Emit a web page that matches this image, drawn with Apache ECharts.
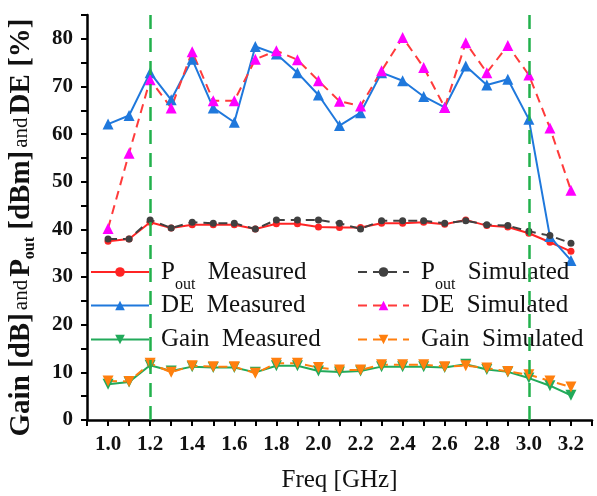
<!DOCTYPE html>
<html>
<head>
<meta charset="utf-8">
<script src="https://cdn.jsdelivr.net/npm/echarts@6/dist/echarts.min.js"></script>
<style>
  html, body { margin: 0; padding: 0; background: #fff; }
  #chart { width: 597px; height: 496px; }
</style>
</head>
<body>
<div id="chart"></div>
<script>
const freq = [1.0, 1.1, 1.2, 1.3, 1.4, 1.5, 1.6, 1.7, 1.8, 1.9, 2.0, 2.1, 2.2, 2.3, 2.4, 2.5, 2.6, 2.7, 2.8, 2.9, 3.0, 3.1, 3.2];

const poutMeas = [37.5, 38.0, 41.5, 40.3, 41.0, 41.0, 41.0, 40.1, 41.2, 41.2, 40.5, 40.4, 40.4, 41.3, 41.3, 41.5, 41.1, 42.0, 40.8, 40.5, 39.2, 37.3, 35.4];
const poutSim  = [38.0, 38.0, 42.0, 40.3, 41.5, 41.3, 41.3, 40.1, 42.0, 42.0, 42.0, 41.3, 40.1, 41.8, 41.8, 41.8, 41.3, 41.8, 41.0, 40.8, 39.6, 38.7, 37.1];
const deMeas   = [62.1, 63.9, 72.9, 67.2, 75.7, 65.5, 62.5, 78.4, 76.8, 72.9, 68.2, 61.8, 64.5, 72.9, 71.2, 67.9, 65.6, 74.3, 70.3, 71.5, 63.1, 38.5, 33.5];
const deSim    = [40.2, 56.0, 71.4, 65.5, 77.3, 67.0, 67.0, 75.7, 77.5, 75.6, 71.2, 66.9, 65.9, 73.3, 80.3, 74.0, 65.6, 79.2, 72.9, 78.6, 72.4, 61.3, 48.2];
const gainMeas = [7.5, 8.0, 11.5, 10.3, 11.2, 11.0, 11.0, 10.0, 11.4, 11.4, 10.3, 10.1, 10.3, 11.2, 11.2, 11.2, 11.0, 11.7, 10.6, 10.1, 8.8, 7.2, 5.2];
const gainSim  = [8.2, 8.1, 11.9, 10.0, 11.4, 11.2, 11.2, 9.8, 11.9, 11.9, 11.0, 10.5, 10.5, 11.6, 11.6, 11.6, 11.2, 11.4, 10.9, 10.2, 9.5, 8.2, 6.9];

// band edges marked with the green dashed lines
const bandEdges = [1.2, 3.0];

const serif = 'Liberation Serif';

function pairs(vals) {
  return vals.map((v, i) => [freq[i], v]);
}

const chart = echarts.init(document.getElementById('chart'));

// one legend per entry so the two columns line up like the figure
function legendItem(name, left, top, iconW, label) {
  return {
    data: [name],
    left: left,
    top: top,
    padding: 0,
    itemWidth: iconW,
    itemHeight: 12,
    formatter: label,
    textStyle: {
      fontFamily: serif,
      fontSize: 25,
      lineHeight: 25,
      color: '#111',
      padding: [0, 0, 0, 7],
      rich: {
        sub: { fontFamily: serif, fontSize: 16, lineHeight: 16, padding: [26, 0, 0, 0], color: '#111' }
      }
    }
  };
}

const option = {
  backgroundColor: '#fff',
  animation: false,
  grid: { left: 87, right: 5, top: 15, bottom: 76, outerBoundsMode: 'none' },
  legend: [
    legendItem('Pout Measured', 90, 251, 58, 'P{sub|out}  Measured'),
    legendItem('DE Measured', 90, 293, 58, 'DE  Measured'),
    legendItem('Gain Measured', 90, 327, 58, 'Gain  Measured'),
    legendItem('Pout Simulated', 357, 251, 51, 'P{sub|out}  Simulated'),
    legendItem('DE Simulated', 357, 293, 51, 'DE  Simulated'),
    legendItem('Gain Simulated', 357, 327, 51, 'Gain  Simulated')
  ],
  xAxis: {
    type: 'value',
    min: 0.9,
    max: 3.3,
    interval: 0.1,
    name: 'Freq [GHz]',
    nameLocation: 'middle',
    nameGap: 48,
    nameTextStyle: { fontFamily: serif, fontSize: 25, color: '#111' },
    axisLine: { lineStyle: { color: '#000', width: 2.5 } },
    axisTick: { length: 6, lineStyle: { color: '#000', width: 2 } },
    axisLabel: {
      margin: 14,
      fontFamily: serif,
      fontSize: 21,
      fontWeight: 'bold',
      color: '#111',
      formatter: function (v) {
        const k = Math.round(v * 10);
        return (k >= 10 && k <= 32 && k % 2 === 0) ? (k / 10).toFixed(1) : '';
      }
    },
    splitLine: { show: false }
  },
  yAxis: {
    type: 'value',
    min: 0,
    max: 85,
    interval: 5,
    name: '{b|Gain [dB]} {s|and} {b|P}{sub|out}{b| [dBm]} {s|and} {b|DE [%]}',
    nameLocation: 'middle',
    nameGap: 51,
    nameTextStyle: {
      fontFamily: serif,
      color: '#111',
      padding: [0, 20, 0, 0],
      rich: {
        b: { fontFamily: serif, fontSize: 29, fontWeight: 'bold', color: '#111', lineHeight: 29 },
        s: { fontFamily: serif, fontSize: 21, color: '#111', lineHeight: 29 },
        sub: { fontFamily: serif, fontSize: 16, fontWeight: 'bold', color: '#111', lineHeight: 16, padding: [16, 0, 0, 0] }
      }
    },
    axisLine: { show: true, lineStyle: { color: '#000', width: 2.5 } },
    axisTick: { show: true, length: 6, lineStyle: { color: '#000', width: 2 } },
    axisLabel: {
      margin: 14,
      fontFamily: serif,
      fontSize: 21,
      fontWeight: 'bold',
      color: '#111',
      formatter: function (v) {
        return v % 10 === 0 ? String(v) : '';
      }
    },
    splitLine: { show: false }
  },
  series: [
    {
      name: 'Pout Measured',
      type: 'line',
      data: pairs(poutMeas),
      symbol: 'circle',
      symbolSize: 7,
      itemStyle: { color: '#ff2424' },
      lineStyle: { color: '#ff2424', width: 2 }
    },
    {
      name: 'DE Measured',
      type: 'line',
      data: pairs(deMeas),
      symbol: 'triangle',
      symbolSize: 11,
      itemStyle: { color: '#1f78dc' },
      lineStyle: { color: '#1f78dc', width: 2 },
      markLine: {
        silent: true,
        symbol: 'none',
        label: { show: false },
        lineStyle: { color: '#22b14c', width: 2.5, type: [14, 9] },
        data: bandEdges.map(x => ({ xAxis: x }))
      }
    },
    {
      name: 'Gain Measured',
      type: 'line',
      data: pairs(gainMeas),
      symbol: 'triangle',
      symbolRotate: 180,
      symbolSize: 11,
      itemStyle: { color: '#22aa5a' },
      lineStyle: { color: '#22aa5a', width: 2 }
    },
    {
      name: 'Pout Simulated',
      type: 'line',
      data: pairs(poutSim),
      symbol: 'circle',
      symbolSize: 7,
      itemStyle: { color: '#404040' },
      lineStyle: { color: '#404040', width: 2, type: [9, 6] }
    },
    {
      name: 'DE Simulated',
      type: 'line',
      data: pairs(deSim),
      symbol: 'triangle',
      symbolSize: 11,
      itemStyle: { color: '#ff00ff' },
      lineStyle: { color: '#ff3b3b', width: 2, type: [9, 6] }
    },
    {
      name: 'Gain Simulated',
      type: 'line',
      data: pairs(gainSim),
      symbol: 'triangle',
      symbolRotate: 180,
      symbolSize: 11,
      itemStyle: { color: '#ff7f0e' },
      lineStyle: { color: '#ff7f0e', width: 2, type: [9, 6] }
    }
  ]
};

chart.setOption(option);
</script>
</body>
</html>
